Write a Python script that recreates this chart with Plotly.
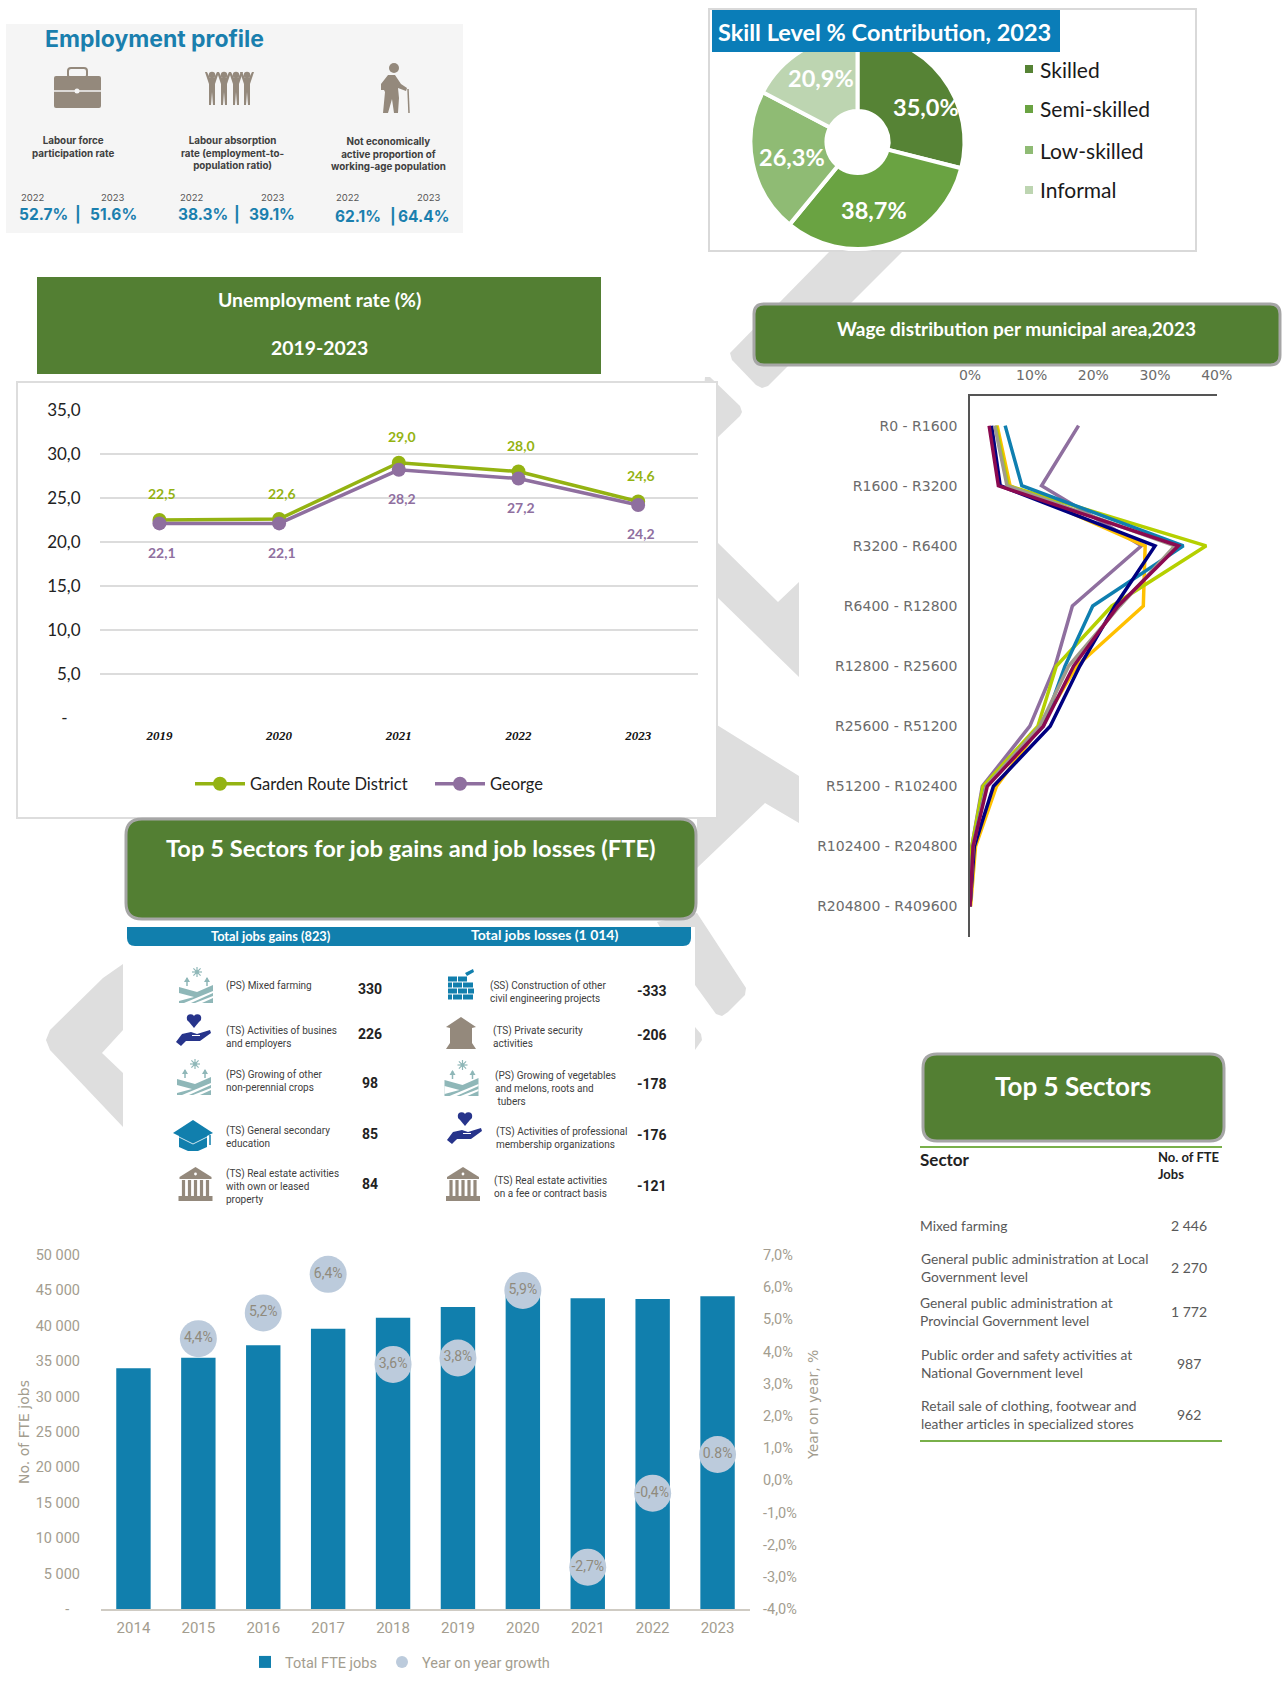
import plotly.graph_objects as go

W, H = 1283, 1686
CAL = "Lato, Carlito, sans-serif"
GOTH = "Inter, sans-serif"
WIDE = "'DejaVu Sans', sans-serif"
NARROW = "Roboto, sans-serif"

GREEN = "#537f33"
BLUE = "#117fad"
TAUPE = "#94897c"
TEAL = "#8fb7b8"
NAVY = "#27348b"
GREY = "#dedede"

# ---------- data ----------
skill_labels = ["Skilled", "Semi-skilled", "Low-skilled", "Informal"]
skill_values = [35.0, 38.7, 26.3, 20.9]
skill_colors = ["#568335", "#6aa342", "#8fbb74", "#bdd5b1"]

years_unemp = ["2019", "2020", "2021", "2022", "2023"]
garden_route = [22.5, 22.6, 29.0, 28.0, 24.6]
george = [22.1, 22.1, 28.2, 27.2, 24.2]
unemp_ticks = [0, 5, 10, 15, 20, 25, 30, 35]
unemp_ticktext = ["-\u00a0\u00a0\u00a0", "5,0", "10,0", "15,0", "20,0", "25,0", "30,0", "35,0"]

wage_bands = ["R0 - R1600", "R1600 - R3200", "R3200 - R6400", "R6400 - R12800", "R12800 - R25600",
              "R25600 - R51200", "R51200 - R102400", "R102400 - R204800", "R204800 - R409600"]
wage_purple = [17.6, 11.6, 27.8, 16.6, 13.8, 9.7, 2.0, 0.3, 0.0]
wage_gold = [4.4, 6.5, 28.4, 28.1, 17.3, 11.5, 4.3, 0.9, 0.1]
wage_blue = [5.7, 8.4, 34.6, 19.9, 15.4, 11.9, 2.6, 0.5, 0.0]
wage_green = [4.2, 6.2, 38.3, 23.0, 14.0, 11.0, 2.1, 0.3, 0.0]
wage_navy = [3.5, 4.9, 30.0, 23.5, 17.8, 13.0, 3.8, 0.7, 0.0]
wage_gray = [4.0, 6.0, 33.2, 24.3, 16.0, 11.3, 2.6, 0.5, 0.0]
wage_maroon = [3.1, 4.6, 33.8, 24.0, 16.8, 11.9, 2.8, 0.5, 0.0]
wage_ticks = [0, 10, 20, 30, 40]

years_jobs = ["2014", "2015", "2016", "2017", "2018", "2019", "2020", "2021", "2022", "2023"]
fte_jobs = [34000, 35470, 37250, 39600, 41150, 42660, 45100, 43880, 43790, 44170]
yoy_growth = [None, 4.4, 5.2, 6.4, 3.6, 3.8, 5.9, -2.7, -0.4, 0.8]
yoy_labels = ["", "4,4%", "5,2%", "6,4%", "3,6%", "3,8%", "5,9%", "-2,7%", "-0,4%", "0.8%"]
jobs_ticks = list(range(0, 50001, 5000))
jobs_ticktext = ["-\u00a0\u00a0\u00a0", "5 000", "10 000", "15 000", "20 000", "25 000", "30 000", "35 000", "40 000", "45 000", "50 000"]
yoy_ticks = list(range(-4, 8))
yoy_ticktext = ["-4,0%", "-3,0%", "-2,0%", "-1,0%", "0,0%", "1,0%", "2,0%", "3,0%", "4,0%", "5,0%", "6,0%", "7,0%"]

gains_text = ["(PS) Mixed farming", "(TS) Activities of busines<br>and employers",
              "(PS) Growing of other<br>non-perennial crops", "(TS) General secondary<br>education",
              "(TS) Real estate activities<br>with own or leased<br>property"]
gains_values = [330, 226, 98, 85, 84]
losses_text = ["(SS) Construction of other<br>civil engineering projects", "(TS) Private security<br>activities",
               "(PS) Growing of vegetables<br>and melons, roots and<br> tubers",
               "(TS) Activities of professional<br>membership organizations",
               "(TS) Real estate activities<br>on a fee or contract basis"]
losses_values = [-333, -206, -178, -176, -121]

top_sectors = ["Mixed farming", "General public administration at Local<br>Government level",
               "General public administration at<br>Provincial Government level",
               "Public order and safety activities at<br>National Government level",
               "Retail sale of clothing, footwear and<br>leather articles in specialized stores"]
top_jobs = ["2 446", "2 270", "1 772", "987", "962"]

# ---------- pixel helpers ----------
shapes, notes = [], []


def fx(x):
    return x / W


def fy(y):
    return 1 - y / H


def poly(pts, fill, layer="below"):
    d = "M " + " L ".join(f"{fx(x):.5f} {fy(y):.5f}" for x, y in pts) + " Z"
    shapes.append(dict(type="path", xref="paper", yref="paper", path=d, fillcolor=fill,
                       line=dict(width=0), layer=layer))


def rect(x0, y0, x1, y1, fill, line=None, lw=0, layer="below"):
    shapes.append(dict(type="rect", xref="paper", yref="paper", x0=fx(x0), x1=fx(x1), y0=fy(y0), y1=fy(y1),
                       fillcolor=fill, line=dict(color=line or fill, width=lw), layer=layer))


def circ(cx, cy, r, fill, layer="below"):
    shapes.append(dict(type="circle", xref="paper", yref="paper", x0=fx(cx - r), x1=fx(cx + r),
                       y0=fy(cy + r), y1=fy(cy - r), fillcolor=fill, line=dict(width=0), layer=layer))


def seg(x0, y0, x1, y1, color, lw):
    shapes.append(dict(type="line", xref="paper", yref="paper", x0=fx(x0), x1=fx(x1), y0=fy(y0), y1=fy(y1),
                       line=dict(color=color, width=lw), layer="below"))


def round_rect(x0, y0, x1, y1, r, fill, line=None, lw=0, corners="tl tr br bl"):
    def P(x, y):
        return f"{fx(x):.5f} {fy(y):.5f}"
    c = corners.split()
    d = "M " + P(x0 + (r if "tl" in c else 0), y0)
    d += " L " + P(x1 - (r if "tr" in c else 0), y0)
    if "tr" in c:
        d += " Q " + P(x1, y0) + " " + P(x1, y0 + r)
    d += " L " + P(x1, y1 - (r if "br" in c else 0))
    if "br" in c:
        d += " Q " + P(x1, y1) + " " + P(x1 - r, y1)
    d += " L " + P(x0 + (r if "bl" in c else 0), y1)
    if "bl" in c:
        d += " Q " + P(x0, y1) + " " + P(x0, y1 - r)
    d += " L " + P(x0, y0 + (r if "tl" in c else 0))
    if "tl" in c:
        d += " Q " + P(x0, y0) + " " + P(x0 + r, y0)
    d += " Z"
    shapes.append(dict(type="path", xref="paper", yref="paper", path=d, fillcolor=fill,
                       line=dict(color=line or fill, width=lw), layer="below"))


def T(x, y, s, size, color="#404040", font=CAL, anchor="center", align=None, angle=0):
    if anchor == "left":
        x -= 2.5
    notes.append(dict(xref="paper", yref="paper", x=fx(x), y=fy(y), text=s, showarrow=False,
                      xanchor=anchor, yanchor="middle", align=align or anchor, textangle=angle,
                      font=dict(size=size, color=color, family=font)))


# ---------- icons ----------
def farm(cx, cy):
    sx, sy = cx + 1, cy - 13
    for dx, dy in [(5, 0), (3.6, 3.6), (0, 5), (-3.6, 3.6)]:
        seg(sx - dx, sy - dy, sx + dx, sy + dy, TEAL, 1.2)
    circ(sx, sy, 2, TEAL)
    for px_ in (cx - 9, cx + 11):
        seg(px_, cy - 7, px_, cy + 1, TEAL, 1.5)
        poly([(px_ - 3, cy - 3), (px_, cy - 8), (px_ + 3, cy - 3)], TEAL)
    poly([(cx - 17, cy + 2), (cx + 1, cy + 7), (cx + 17, cy), (cx + 17, cy + 18), (cx - 17, cy + 18)], TEAL)
    poly([(cx - 17, cy + 8), (cx - 2, cy + 12), (cx - 17, cy + 16)], "#ffffff")
    poly([(cx - 12, cy + 18), (cx + 17, cy + 6), (cx + 17, cy + 8), (cx - 5, cy + 18)], "#ffffff")
    poly([(cx - 1, cy + 18), (cx + 17, cy + 11), (cx + 17, cy + 13), (cx + 6, cy + 18)], "#ffffff")


def hand(cx, cy):
    circ(cx - 3.4, cy - 13, 3.8, NAVY)
    circ(cx + 3.4, cy - 13, 3.8, NAVY)
    poly([(cx - 7, cy - 11.5), (cx + 7, cy - 11.5), (cx, cy - 3)], NAVY)
    poly([(cx - 18, cy + 11), (cx - 12, cy + 3), (cx - 3, cy + 1), (cx + 3, cy + 3), (cx + 16, cy - 1), (cx + 17, cy + 2),
          (cx + 6, cy + 10), (cx - 8, cy + 10), (cx - 13, cy + 15)], NAVY)
    seg(cx - 2, cy + 4.5, cx + 6, cy + 4.5, "#ffffff", 1)


def cap(cx, cy):
    poly([(cx - 14, cy + 1), (cx - 14, cy + 12), (cx - 5, cy + 16), (cx + 5, cy + 16), (cx + 14, cy + 12), (cx + 14, cy + 1)], BLUE)
    poly([(cx - 20, cy - 2), (cx, cy - 15), (cx + 20, cy - 2), (cx, cy + 8)], BLUE)
    seg(cx - 14, cy + 2, cx, cy + 9, "#ffffff", 0.8)
    seg(cx + 14, cy + 2, cx, cy + 9, "#ffffff", 0.8)
    seg(cx + 17, cy, cx + 17, cy + 10, BLUE, 1.5)


def bank(cx, cy):
    poly([(cx - 16, cy - 8), (cx, cy - 18), (cx + 16, cy - 8), (cx + 16, cy - 6), (cx - 16, cy - 6)], TAUPE)
    for dx in (-12, -6, 0, 6, 12):
        rect(cx + dx - 1.6, cy - 5, cx + dx + 1.6, cy + 11, TAUPE)
    rect(cx - 17, cy + 11, cx + 17, cy + 16, TAUPE)
    circ(cx, cy - 11, 1.4, "#ffffff")


def bricks(cx, cy):
    for y_, xs in [(cy - 9, [(-13, -4), (-3, 6)]), (cy - 3, [(-13, -9), (-8, 1), (2, 12)]),
                   (cy + 3, [(-13, -4), (-3, 6), (7, 13)]), (cy + 9, [(-13, -9), (-8, 1), (2, 12)])]:
        for a, b in xs:
            rect(cx + a, y_ - 2.5, cx + b, y_ + 2.5, BLUE)
    poly([(cx + 4, cy - 15), (cx + 12, cy - 19), (cx + 13, cy - 16), (cx + 6, cy - 12)], BLUE)


def house(cx, cy):
    poly([(cx - 15, cy - 6), (cx, cy - 16), (cx + 15, cy - 6), (cx + 11, cy - 5), (cx + 11, cy + 10), (cx + 15, cy + 16),
          (cx - 15, cy + 16), (cx - 11, cy + 10), (cx - 11, cy - 5)], TAUPE)


# ---------- background chevrons ----------
poly([(830, 251), (903, 251), (768, 386), (762, 388), (756, 385), (732, 360), (730, 353)], GREY)
poly([(705, 377), (710, 377), (740, 406), (742, 412), (740, 416), (717, 438), (700, 438)], GREY)
poly([(717, 542), (778, 602), (799, 582), (799, 677), (717, 597)], GREY)
poly([(717, 725), (799, 776), (799, 823), (765, 803), (697, 868), (697, 818), (717, 818)], GREY)
poly([(657, 922), (697, 913), (746, 988), (745, 995), (728, 1012), (722, 1016), (716, 1014), (695, 985), (695, 927), (660, 927)], GREY)
poly([(695, 1027), (701, 1034), (702, 1040), (695, 1050)], GREY)
poly([(123, 964), (103, 978), (50, 1030), (46, 1040), (50, 1050), (123, 1127), (123, 1073), (102, 1053), (123, 1030)], GREY)

# ---------- employment profile ----------
rect(6, 24, 463, 233, "#f5f5f5")
T(45, 39, "<b>Employment profile</b>", 23, "#1a7fae", GOTH, "left")
round_rect(54, 76, 101, 108, 2, TAUPE)
seg(54, 91, 101, 91, "#f5f5f5", 1.5)
circ(77, 91, 2.5, "#f5f5f5")
round_rect(68, 68, 87, 78, 3, "rgba(0,0,0,0)", TAUPE, 2)
for c_ in (212, 224, 236, 247):
    circ(c_, 75, 3.2, TAUPE)
    poly([(c_ - 7, 72), (c_ - 5, 72), (c_ - 2, 78), (c_ + 2, 78), (c_ + 5, 72), (c_ + 7, 72), (c_ + 3, 84),
          (c_ + 3, 105), (c_ + 1, 105), (c_, 92), (c_ - 1, 105), (c_ - 3, 105), (c_ - 3, 84)], TAUPE)
circ(394, 68, 5, TAUPE)
poly([(388, 75), (395, 75), (401, 84), (407, 88), (406, 91), (398, 88), (399, 98), (398, 113), (394, 113), (392, 99),
      (388, 113), (383, 113), (385, 92), (384, 90), (381, 90), (381, 84)], TAUPE)
seg(408, 89, 409, 113, TAUPE, 1.5)

for x_, y_, s_ in [(73, 147, "<b>Labour force<br>participation rate</b>"),
                   (232, 152.5, "<b>Labour absorption<br>rate (employment-to-<br>population ratio)</b>"),
                   (388, 154, "<b>Not economically<br>active proportion of<br>working-age population</b>")]:
    T(x_, y_, s_, 9.8, "#404040", GOTH)
for x_, s_ in [(33, "2022"), (113, "2023"), (192, "2022"), (273, "2023"), (348, "2022"), (429, "2023")]:
    T(x_, 197, s_, 9.5, "#555555", GOTH)
for x_, y_, s_ in [(43, 215, "52.7%"), (78, 215, "|"), (113, 215, "51.6%"),
                   (203, 215, "38.3%"), (237, 215, "|"), (272, 215, "39.1%"),
                   (358, 217, "62.1%"), (393, 217, "|"), (423, 217, "64.4%")]:
    T(x_, y_, f"<b>{s_}</b>", 15.5, "#1a7fae", GOTH)

# ---------- skill pie panel ----------
rect(709, 9, 1196, 251, "#ffffff", "#d9d9d9", 2)
rect(712, 10, 1060, 52, "#0a7db8", layer="above")
T(885, 32, "<b>Skill Level % Contribution, 2023</b>", 23.5, "#ffffff")
for (x_, y_), v_ in zip([(926, 107), (874, 210), (792, 157), (821, 78)], skill_values):
    T(x_, y_, "<b>" + f"{v_:.1f}".replace(".", ",") + "%</b>", 23.5, "#ffffff")
for y_, lab_, col_ in zip([69, 109, 150, 190], skill_labels, skill_colors):
    rect(1025, y_ - 4, 1033, y_ + 4, col_)
    T(1040, y_, lab_, 21, "#1a1a1a", CAL, "left")

# ---------- headers ----------
rect(37, 277, 601, 374, GREEN)
T(319, 300, "<b>Unemployment rate (%)</b>", 19.4, "#ffffff")
T(319, 347, "<b>2019-2023</b>", 19.4, "#ffffff")
round_rect(754, 304, 1280, 365, 10, GREEN, "#a6a6a6", 3)
T(1016, 329, "<b>Wage distribution per municipal area,2023</b>", 19, "#ffffff")

# line-chart panel
rect(17, 382, 717, 818, "#ffffff", "#dddddd", 2)
round_rect(126, 819, 696, 919, 16, GREEN, "#a6a6a6", 3)
T(411, 848, "<b>Top 5 Sectors for job gains and job losses (FTE)</b>", 23.7, "#ffffff")

# ---------- jobs list ----------
round_rect(127, 927, 691, 946, 8, BLUE, corners="bl br")
T(271, 936, "<b>Total jobs gains (823)</b>", 12.8, "#ffffff")
T(544, 934, "<b>Total jobs losses (1 014)</b>", 14, "#ffffff")
for y_, s_ in zip([986, 1036.5, 1081, 1137, 1186], gains_text):
    T(226.5, y_, s_, 10, "#404040", NARROW, "left")
for y_, v_ in zip([989, 1034, 1083, 1134, 1184], gains_values):
    T(370, y_, f"<b>{v_}</b>", 14, "#222222", NARROW)
for x_, y_, s_ in zip([490, 493, 495, 496, 494], [992, 1037, 1088, 1138, 1187], losses_text):
    T(x_, y_, s_, 10, "#404040", NARROW, "left")
for y_, v_ in zip([991, 1035, 1084, 1135, 1186], losses_values):
    T(652, y_, f"<b>{v_}</b>", 14, "#222222", NARROW)
farm(196, 985)
hand(194, 1031)
farm(194, 1077)
cap(193, 1135)
bank(195.5, 1185)
bricks(461, 988)
house(461, 1033)
farm(461.5, 1078)
hand(465, 1129)
bank(463, 1185)

# ---------- top 5 sectors table ----------
round_rect(923, 1054, 1224, 1141, 14, GREEN, "#a6a6a6", 3)
T(1073, 1086, "<b>Top 5 Sectors</b>", 26, "#ffffff")
seg(920, 1147, 1222, 1147, "#79b04a", 2)
seg(920, 1441, 1222, 1441, "#79b04a", 2)
T(921, 1159, "<b>Sector</b>", 17, "#222222", CAL, "left")
T(1158, 1165, "<b>No. of FTE<br>Jobs</b>", 13, "#222222", CAL, "left")
for y_, s_, v_ in zip([1225, 1267, 1311, 1363, 1414], top_sectors, top_jobs):
    T(921, y_, s_, 13.8, "#595959", CAL, "left")
    T(1189, y_, v_, 14, "#595959", CAL)

# ---------- traces ----------
fig = go.Figure()
fig.add_trace(go.Pie(labels=skill_labels, values=skill_values, sort=False, direction="clockwise", rotation=0,
                     hole=0.29, marker=dict(colors=skill_colors, line=dict(color="#ffffff", width=4)),
                     textinfo="none", showlegend=False,
                     domain=dict(x=[fx(750.5), fx(964.5)], y=[fy(249), fy(35)])))

for name, vals, col in [("Garden Route District", garden_route, "#94b312"), ("George", george, "#8f6f9f")]:
    fig.add_trace(go.Scatter(x=years_unemp, y=vals, name=name, mode="lines+markers", xaxis="x", yaxis="y",
                             line=dict(color=col, width=3.5), marker=dict(color=col, size=14), legend="legend"))
for i, v in enumerate(garden_route):
    notes.append(dict(xref="x", yref="y", x=i, y=v, text=f"<b>{v:.1f}</b>".replace(".", ","), showarrow=False, xshift=3,
                      yshift=26, font=dict(size=14, color="#94b312", family=CAL)))
for i, v in enumerate(george):
    notes.append(dict(xref="x", yref="y", x=i, y=v, text=f"<b>{v:.1f}</b>".replace(".", ","), showarrow=False, xshift=3,
                      yshift=-29, font=dict(size=14, color="#8f6f9f", family=CAL)))

for vals, col in [(wage_purple, "#8f6f9f"), (wage_gold, "#ffc000"), (wage_green, "#b5d000"), (wage_blue, "#0f7fb0"),
                  (wage_navy, "#000080"), (wage_gray, "#a09a8c"), (wage_maroon, "#8b0a50")]:
    fig.add_trace(go.Scatter(x=vals, y=wage_bands, mode="lines", xaxis="x2", yaxis="y2", showlegend=False,
                             line=dict(color=col, width=3.5)))

fig.add_trace(go.Bar(x=years_jobs, y=fte_jobs, name="Total FTE jobs", marker=dict(color=BLUE, line=dict(width=0)),
                     xaxis="x3", yaxis="y3", legend="legend2", width=0.53))
fig.add_trace(go.Scatter(x=years_jobs, y=yoy_growth, name="Year on year growth", mode="markers+text", text=yoy_labels,
                         textposition="middle center", textfont=dict(size=14, color="#8f8a7c", family=NARROW),
                         marker=dict(color="#bccbdc", size=37), xaxis="x3", yaxis="y4", legend="legend2"))

notes.append(dict(xref="paper", yref="paper", x=fx(813), y=fy(1405), text="Year on year, %", showarrow=False, textangle=-90,
                  xanchor="center", yanchor="middle", font=dict(size=14, color="#a39d8f", family=WIDE)))

fig.update_layout(
    width=W, height=H, autosize=False, margin=dict(l=0, r=0, t=0, b=0, autoexpand=False),
    paper_bgcolor="#ffffff", plot_bgcolor="rgba(0,0,0,0)", hovermode=False,
    barmode="overlay",
    shapes=shapes, annotations=notes,
    xaxis=dict(domain=[fx(99.6), fx(698)], type="category", categoryorder="array", categoryarray=years_unemp,
               range=[-0.5, 4.5], anchor="y", showgrid=False, showline=False, ticks="", ticklabelstandoff=8,
               tickfont=dict(size=13, family="'Liberation Serif', serif", color="#111111", style="italic", weight="bold")),
    yaxis=dict(domain=[fy(717.7), fy(410)], range=[0, 35], anchor="x", tickvals=unemp_ticks, ticktext=unemp_ticktext,
               showgrid=True, gridcolor="#dcdcdc", gridwidth=2, zeroline=False, showline=False, ticks="",
               ticklabelstandoff=18, tickfont=dict(size=17, family=CAL, color="#222222")),
    xaxis2=dict(domain=[fx(970), fx(1216.7)], range=[0, 40], anchor="y2", side="top", tickvals=wage_ticks,
                ticktext=[f"{t}%" for t in wage_ticks], showgrid=False, zeroline=False, showline=True, linecolor="#555555",
                linewidth=1.5, ticks="", ticklabelstandoff=8, tickfont=dict(size=14, family=WIDE, color="#6b6b6b")),
    yaxis2=dict(domain=[fy(936.5), fy(395.6)], type="category", categoryorder="array", categoryarray=wage_bands,
                range=[8.5, -0.5], anchor="x2", showgrid=False, zeroline=False, showline=True, linecolor="#555555",
                linewidth=1.5, ticks="", ticklabelstandoff=8, tickfont=dict(size=14, family=WIDE, color="#6b6b6b")),
    xaxis3=dict(domain=[fx(101), fx(750)], type="category", categoryorder="array", categoryarray=years_jobs, anchor="y3",
                range=[-0.5, 9.5], showgrid=False, showline=True, linecolor="#cfcbc3", linewidth=2, ticks="", ticklabelstandoff=4,
                tickfont=dict(size=15, family=NARROW, color="#a39d8f")),
    yaxis3=dict(domain=[fy(1609), fy(1255)], range=[0, 50000], anchor="x3", tickvals=jobs_ticks, ticktext=jobs_ticktext,
                showgrid=False, zeroline=False, showline=False, ticks="", ticklabelstandoff=20,
                tickfont=dict(size=14.5, family=NARROW, color="#a39d8f"),
                title=dict(text="No. of FTE jobs", standoff=2, font=dict(size=14, color="#a39d8f", family=WIDE))),
    yaxis4=dict(domain=[fy(1609), fy(1255)], range=[-4, 7], overlaying="y3", side="right", anchor="x3",
                tickvals=yoy_ticks, ticktext=yoy_ticktext, showgrid=False, zeroline=False, showline=False, ticks="",
                ticklabelstandoff=12, tickfont=dict(size=14.5, family=NARROW, color="#a39d8f")),
    legend=dict(orientation="h", x=fx(190), y=fy(784), xanchor="left", yanchor="middle", itemwidth=50, entrywidth=175,
                font=dict(size=16.5, family=CAL, color="#222222"), bgcolor="rgba(0,0,0,0)", itemclick=False),
    legend2=dict(orientation="h", x=fx(245), y=fy(1662), xanchor="left", yanchor="middle", itemwidth=30, itemsizing="constant",
                 font=dict(size=14.5, family=NARROW, color="#a39d8f"), bgcolor="rgba(0,0,0,0)", itemclick=False),
)

fig.write_html("out.html", post_script="document.body.style.margin='0';", config=dict(displayModeBar=False))
